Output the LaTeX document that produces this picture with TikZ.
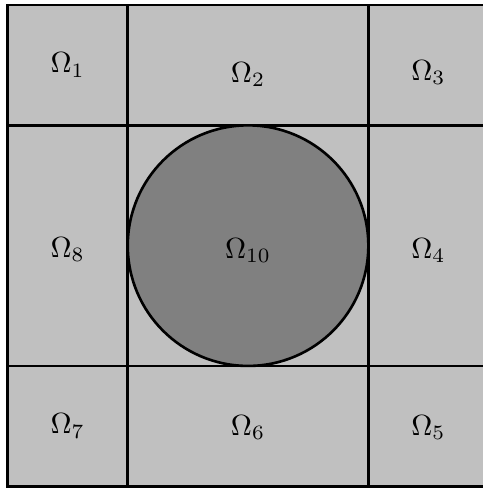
\documentclass[tikz,border=0pt]{standalone}
\usepackage{amsmath}
\usepackage{tikz}
\definecolor{cell}{HTML}{C0C0C0}
\definecolor{disc}{HTML}{808080}

\begin{document}
\begin{tikzpicture}[x=1.45cm, y=1.45cm,
  grid/.style={draw=black, line width=0.9pt},
  lbl/.style={inner sep=0pt}]
\clip (-0.062,-0.023) rectangle (3.953,4.042);
\fill[cell] (0,0) rectangle (4,4);
\draw[grid] (0,0) rectangle (4,4);
\draw[grid] (1,0) -- (1,4);
\draw[grid] (3,0) -- (3,4);
\draw[grid] (0,1) -- (4,1);
\draw[grid] (0,3) -- (4,3);
\draw[grid, fill=disc] (2,2) circle (1);
\node[lbl] (o1) at (0.5,3.5) {$\Omega_1$};
\node[lbl] (o2) at (2,3.42) {$\Omega_2$};
\node[lbl] (o3) at (3.5,3.44) {$\Omega_3$};
\node[lbl] (o4) at (3.5,1.96) {$\Omega_4$};
\node[lbl] (o5) at (3.5,0.49) {$\Omega_5$};
\node[lbl] (o6) at (2,0.49) {$\Omega_6$};
\node[lbl] (o7) at (0.5,0.5) {$\Omega_7$};
\node[lbl] (o8) at (0.5,1.97) {$\Omega_8$};
\node[lbl] (o10) at (2,1.96) {$\Omega_{10}$};
\end{tikzpicture}
\end{document}
